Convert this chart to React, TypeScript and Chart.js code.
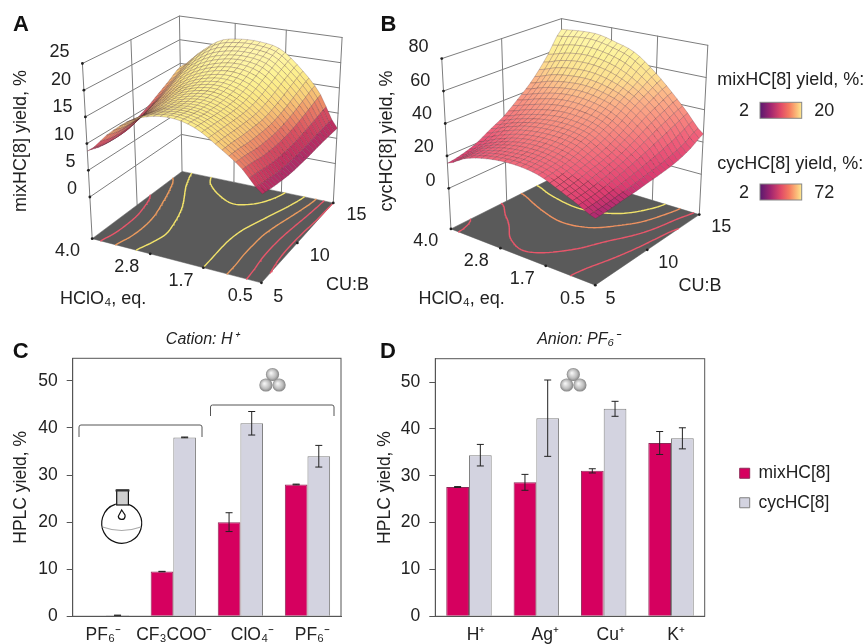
import React, { useEffect, useRef } from "react";
import { Chart, registerables } from "chart.js";

Chart.register(...registerables);
Chart.defaults.font.family = "'Liberation Sans', Arial, sans-serif";

const FONT = "'Liberation Sans', Arial, sans-serif";
const INK = "#222222";

// ---------- panel C / D bars ----------
const catsC = ["PF₆⁻", "CF₃COO⁻", "ClO₄⁻", "PF₆⁻"];
const mixC = [null, 9.5, 20, 28];
const cycC = [0.2, 38, 41, 34];
const mixErrC = [0, 0.05, 2, 0.08];
const cycErrC = [0.05, 0.08, 2.5, 2.3];

const catsD = ["H⁺", "Ag⁺", "Cu⁺", "K⁺"];
const mixD = [27.6, 28.6, 31.05, 37];
const cycD = [34.4, 42.3, 44.3, 38];
const mixErrD = [0.1, 1.7, 0.45, 2.45];
const cycErrD = [2.3, 8.15, 1.6, 2.25];

// ---------- surfaces: rows are CU:B 5 -> 15, columns HClO4 4.0 -> 0.5 ----------
const surfA = [
  [8.6, 12.6, 15.8, 17.3, 17.6, 16.5, 14.0, 11.2, 7.4],
  [8.0, 12.0, 15.3, 17.0, 17.4, 16.4, 14.0, 11.0, 7.0],
  [7.8, 11.9, 15.0, 16.8, 17.3, 16.3, 13.9, 10.6, 6.7],
  [8.0, 12.1, 15.3, 17.0, 17.5, 16.3, 13.9, 10.5, 6.5],
  [8.8, 12.8, 15.8, 17.5, 17.9, 16.6, 14.0, 10.6, 6.5],
  [9.8, 13.8, 16.6, 18.2, 18.6, 17.4, 14.6, 11.0, 6.6],
  [11.2, 15.1, 17.8, 19.3, 19.7, 18.6, 15.6, 11.7, 6.8],
  [12.7, 16.6, 19.4, 20.6, 20.8, 19.9, 16.8, 12.6, 6.9],
  [14.3, 18.0, 21.0, 21.9, 21.9, 21.0, 17.8, 13.5, 7.0],
];
const surfB = [
  [15.5, 22, 25.5, 27.2, 27.3, 25.5, 21, 16.3, 11.6],
  [17, 23, 26.8, 28.5, 28.7, 26.8, 22.3, 17, 12],
  [20, 25, 29, 31, 31, 29, 24.5, 18.5, 12.8],
  [25, 29.5, 33, 34.5, 34.5, 32.3, 26.5, 20.5, 13.5],
  [30, 34, 37, 38.7, 38.3, 35.8, 29.6, 23, 14.5],
  [37.5, 41, 44, 45, 43.8, 40.5, 34, 26, 15.5],
  [46, 50, 52, 52.5, 50.5, 46.5, 39.5, 29.5, 17],
  [58, 61.5, 63, 62, 58.5, 52.5, 44, 33, 20],
  [72.8, 74, 74, 71, 67, 58.5, 48, 36.5, 25],
];
const zTicksA = [0, 5, 10, 15, 20, 25];
const zTicksB = [0, 20, 40, 60, 80];
const uTicks = ["4.0", "2.8", "1.7", "0.5"];
const vTicks = ["5", "10", "15"];
const levelsA = [7, 10, 13, 16, 19.8];
const levelsB = [18, 28, 38, 48];

type P = [number, number];
const z3 = (a: number, b: number): P => [a / 3, b / 3];

const geomA = {
  floor: { L: z3(270, 722), F: z3(788, 858), R: z3(1008, 612), B: z3(545, 515) },
  top: { L: z3(240, 183), F: z3(795, 268), R: z3(1035, 103), B: z3(537, 37) },
  zMin: -7.8,
  zMax: 25,
};
const geomB = {
  floor: { L: z3(265, 692), F: z3(705, 865), R: z3(1022, 648), B: z3(605, 520) },
  top: { L: z3(237, 168), F: z3(707, 277), R: z3(1048, 127), B: z3(602, 45) },
  zMin: -25,
  zMax: 80,
};

const hex = (h: string) => [1, 3, 5].map((i) => parseInt(h.slice(i, i + 2), 16));
const colorRamp = (stops: [number, string][]) => (v: number) => {
  if (v <= stops[0][0]) return stops[0][1];
  for (let i = 1; i < stops.length; i++) {
    if (v <= stops[i][0]) {
      const f = (v - stops[i - 1][0]) / (stops[i][0] - stops[i - 1][0]);
      const a = hex(stops[i - 1][1]);
      const b = hex(stops[i][1]);
      return `rgb(${a.map((c, k) => Math.round(c + (b[k] - c) * f)).join(",")})`;
    }
  }
  return stops[stops.length - 1][1];
};
const rampA = colorRamp([
  [6, "#9c2a6e"], [8, "#c0305f"], [10, "#d85060"], [12, "#ee9068"],
  [14, "#f8cc78"], [16, "#fbe784"], [18, "#fdf294"], [21, "#fff6ac"],
]);
const rampB = colorRamp([
  [8, "#8a1f70"], [12, "#b02a70"], [16, "#dc3c70"], [25, "#f0607a"], [35, "#f88a80"],
  [45, "#fcb088"], [55, "#fde090"], [65, "#fdf29a"], [75, "#fff8b0"],
]);

const lerp = (a: number, b: number, f: number) => a + (b - a) * f;
const lerpP = (a: P, b: P, f: number): P => [lerp(a[0], b[0], f), lerp(a[1], b[1], f)];
const bilinear = (c: { L: P; F: P; R: P; B: P }, t: number, s: number): P =>
  lerpP(lerpP(c.L, c.F, t), lerpP(c.B, c.R, t), s);

const project = (g: typeof geomA, t: number, s: number, z: number) => {
  const f = bilinear(g.floor, t, s);
  const p = bilinear(g.top, t, s);
  const w = (z - g.zMin) / (g.zMax - g.zMin);
  const q = lerpP(f, p, w);
  return { x: q[0], y: q[1] };
};

const catmull = (p0: number, p1: number, p2: number, p3: number, f: number) =>
  0.5 * (2 * p1 + (p2 - p0) * f + (2 * p0 - 5 * p1 + 4 * p2 - p3) * f * f + (3 * p1 - p0 - 3 * p2 + p3) * f * f * f);
const sampleRow = (row: number[], t: number) => {
  const n = row.length - 1;
  const x = Math.min(t * n, n - 1e-6);
  const i = Math.floor(x);
  return catmull(row[Math.max(i - 1, 0)], row[i], row[i + 1], row[Math.min(i + 2, n)], x - i);
};
const sampleGrid = (grid: number[][], t: number, s: number) => sampleRow(grid.map((r) => sampleRow(r, t)), s);

function contourData(g: typeof geomA, grid: number[][], level: number) {
  const N = 64;
  const pts: { x: number; y: number }[] = [];
  const vals: number[][] = [];
  for (let j = 0; j <= N; j++) {
    const r: number[] = [];
    for (let i = 0; i <= N; i++) r.push(sampleGrid(grid, i / N, j / N));
    vals.push(r);
  }
  for (let j = 0; j < N; j++) {
    for (let i = 0; i < N; i++) {
      const c: [number, number, number][] = [
        [i, j, vals[j][i]], [i + 1, j, vals[j][i + 1]], [i + 1, j + 1, vals[j + 1][i + 1]], [i, j + 1, vals[j + 1][i]],
      ];
      const hits: P[] = [];
      for (let k = 0; k < 4; k++) {
        const a = c[k];
        const b = c[(k + 1) % 4];
        if (a[2] < level !== b[2] < level) {
          const f = (level - a[2]) / (b[2] - a[2]);
          hits.push([lerp(a[0], b[0], f) / N, lerp(a[1], b[1], f) / N]);
        }
      }
      if (hits.length >= 2) {
        const a = bilinear(g.floor, hits[0][0], hits[0][1]);
        const b = bilinear(g.floor, hits[1][0], hits[1][1]);
        pts.push({ x: a[0], y: a[1] }, { x: b[0], y: b[1] }, { x: NaN, y: NaN });
      }
    }
  }
  return pts;
}

const lineDs = (data: any[], color: string, width: number) => ({
  data,
  showLine: true,
  borderColor: color,
  borderWidth: width,
  pointRadius: 0,
  fill: false,
  clip: false,
  borderCapStyle: "round",
});

type TextItem = { text: string; x: number; y: number; font: string; align?: CanvasTextAlign; rot?: number; color?: string };

const textPlugin = (items: TextItem[]) => ({
  id: "panelTexts",
  afterDraw(chart: any) {
    const ctx = chart.ctx;
    items.forEach((it) => {
      ctx.save();
      ctx.translate(it.x, it.y);
      if (it.rot) ctx.rotate(it.rot);
      ctx.font = it.font;
      ctx.fillStyle = it.color || INK;
      ctx.textAlign = it.align || "left";
      ctx.textBaseline = "middle";
      ctx.fillText(it.text, 0, 0);
      ctx.restore();
    });
  },
});

function makeSurface(
  canvas: HTMLCanvasElement,
  g: typeof geomA,
  grid: number[][],
  ramp: (v: number) => string,
  zTicks: number[],
  levels: number[],
  levelColors: string[],
  title: string,
  letter: string,
  W: number,
  H: number,
  titleX: number,
  uTitleX: number,
  vTitleX: number,
  vTitleY: number,
  extra: any[],
) {
  const ds: any[] = [];
  const fl = g.floor;
  const wallColor = "#7d7d7d";
  const pOf = (t: number, s: number, z: number) => project(g, t, s, z);

  // walls
  const wall = (z: number) => [pOf(0, 0, z), pOf(0, 1, z), pOf(1, 1, z)];
  zTicks.forEach((z) => ds.push(lineDs(wall(z), wallColor, 1)));
  [0, 0.5, 1].forEach((s) => ds.push(lineDs([pOf(0, s, g.zMin), pOf(0, s, g.zMax)], wallColor, 1)));
  [0.343, 0.657, 1].forEach((t) => ds.push(lineDs([pOf(t, 1, g.zMin), pOf(t, 1, g.zMax)], wallColor, 1)));

  // floor
  const corner = (c: P) => ({ x: c[0], y: c[1] });
  ds.push({
    data: [corner(fl.L), corner(fl.F), corner(fl.R), corner(fl.B), corner(fl.L)],
    showLine: true, fill: "shape", backgroundColor: "#5a5a5a", borderColor: "#5a5a5a", borderWidth: 0.5, pointRadius: 0, clip: false,
  });
  levels.forEach((lv, i) => ds.push(lineDs(contourData(g, grid, lv), levelColors[i], 1.4)));

  // tick dots
  ds.push({
    data: [
      ...zTicks.map((z) => pOf(0, 0, z)),
      ...[0, 0.343, 0.657, 1].map((t) => pOf(t, 0, g.zMin)),
      ...[0.5, 1].map((s) => pOf(1, s, g.zMin)),
    ],
    showLine: false, pointRadius: 1.4, pointBackgroundColor: "#222", pointBorderWidth: 0, clip: false,
  });

  // surface: far corner to near corner
  const M = 26;
  const zv: number[][] = [];
  for (let j = 0; j <= M; j++) {
    const r: number[] = [];
    for (let i = 0; i <= M; i++) r.push(sampleGrid(grid, i / M, j / M));
    zv.push(r);
  }
  for (let j = M - 1; j >= 0; j--) {
    for (let i = 0; i < M; i++) {
      const a = pOf(i / M, j / M, zv[j][i]);
      const b = pOf((i + 1) / M, j / M, zv[j][i + 1]);
      const c = pOf((i + 1) / M, (j + 1) / M, zv[j + 1][i + 1]);
      const d = pOf(i / M, (j + 1) / M, zv[j + 1][i]);
      const mean = (zv[j][i] + zv[j][i + 1] + zv[j + 1][i + 1] + zv[j + 1][i]) / 4;
      ds.push({
        data: [a, b, c, d, a],
        showLine: true, fill: "shape", backgroundColor: ramp(mean), borderColor: "rgba(70,35,50,0.45)", borderWidth: 0.5,
        pointRadius: 0, clip: false,
      });
    }
  }
  ds.reverse();

  const big = `18px ${FONT}`;
  const items: TextItem[] = [
    { text: letter, x: letter === "A" ? 13 : 20.5, y: 25, font: `bold 22px ${FONT}`, color: "#111" },
    { text: title, x: titleX, y: 141, font: big, align: "center", rot: -Math.PI / 2 },
    { text: "HClO₄, eq.", x: uTitleX, y: 299, font: big },
    { text: "CU:B", x: vTitleX, y: vTitleY, font: big },
  ];
  zTicks.forEach((z) => {
    const p = pOf(0, 0, z);
    items.push({ text: String(z), x: p.x - 10.5, y: p.y - 8.5, font: big, align: "right" });
  });
  uTicks.forEach((u, i) => {
    const p = pOf([0, 0.343, 0.657, 1][i], 0, g.zMin);
    items.push({ text: u, x: p.x - 22.5, y: p.y + 10.5, font: big, align: "center" });
  });
  vTicks.forEach((v, i) => {
    const p = pOf(1, [0, 0.5, 1][i], g.zMin);
    items.push({ text: v, x: p.x + 10.5, y: p.y + 11, font: big });
  });

  return new Chart(canvas, {
    type: "scatter",
    data: { datasets: ds },
    options: {
      animation: false,
      responsive: false,
      devicePixelRatio: 1,
      events: [],
      layout: { padding: 0 },
      plugins: { legend: { display: false }, tooltip: { enabled: false } },
      scales: {
        x: { type: "linear", min: 0, max: W, display: false },
        y: { type: "linear", min: 0, max: H, reverse: true, display: false },
      },
    },
    plugins: [textPlugin(items), ...extra],
  } as any);
}

const errorPlugin = (errs: number[][]) => ({
  id: "errorBars",
  afterDatasetsDraw(chart: any) {
    const ctx = chart.ctx;
    const y = chart.scales.y;
    ctx.save();
    ctx.strokeStyle = "#222";
    ctx.lineWidth = 1;
    errs.forEach((arr, di) => {
      const meta = chart.getDatasetMeta(di);
      arr.forEach((e, i) => {
        const v = chart.data.datasets[di].data[i];
        if (v == null) return;
        const x = meta.data[i].x;
        const y1 = y.getPixelForValue(v + e);
        const y2 = y.getPixelForValue(v - e);
        ctx.beginPath();
        ctx.moveTo(x, y1); ctx.lineTo(x, y2);
        ctx.moveTo(x - 3.5, y1); ctx.lineTo(x + 3.5, y1);
        ctx.moveTo(x - 3.5, y2); ctx.lineTo(x + 3.5, y2);
        ctx.stroke();
      });
    });
    ctx.restore();
  },
});

const boxPlugin = {
  id: "plotBox",
  afterDraw(chart: any) {
    const a = chart.chartArea;
    const ctx = chart.ctx;
    ctx.save();
    ctx.strokeStyle = "#555";
    ctx.lineWidth = 1;
    ctx.strokeRect(a.left, a.top, a.right - a.left, a.bottom - a.top);
    ctx.restore();
  },
};

const balls = (ctx: CanvasRenderingContext2D, cx: number, cy: number) => {
  [[0, -5.5], [-6.6, 5], [6.6, 5]].forEach(([dx, dy]) => {
    const x = cx + dx;
    const y = cy + dy;
    const gr = ctx.createRadialGradient(x - 1.5, y - 1.5, 0.5, x, y, 7);
    gr.addColorStop(0, "#f4f4f4");
    gr.addColorStop(0.6, "#bdbdbd");
    gr.addColorStop(1, "#7a7a7a");
    ctx.fillStyle = gr;
    ctx.beginPath();
    ctx.arc(x, y, 6.6, 0, Math.PI * 2);
    ctx.fill();
  });
};

const iconsC = {
  id: "iconsC",
  afterDraw(chart: any) {
    const ctx: CanvasRenderingContext2D = chart.ctx;
    ctx.save();
    balls(ctx, 272.5, 50);
    // brackets
    ctx.strokeStyle = "#555";
    ctx.lineWidth = 1;
    const br = (x1: number, x2: number, yT: number, yB: number) => {
      ctx.beginPath();
      ctx.moveTo(x1, yB);
      ctx.lineTo(x1, yT + 2);
      ctx.quadraticCurveTo(x1, yT, x1 + 2, yT);
      ctx.lineTo(x2 - 2, yT);
      ctx.quadraticCurveTo(x2, yT, x2, yT + 2);
      ctx.lineTo(x2, yB);
      ctx.stroke();
    };
    br(79, 202, 95, 107);
    br(210.5, 334, 75, 86);
    // flask
    ctx.strokeStyle = "#111";
    ctx.lineWidth = 1.2;
    ctx.beginPath();
    ctx.arc(121.7, 193.3, 20, -Math.PI / 2 + 0.3, -Math.PI / 2 - 0.3 + Math.PI * 2);
    ctx.stroke();
    ctx.fillStyle = "#cfcfcf";
    ctx.fillRect(116.7, 160, 11.7, 15);
    ctx.strokeRect(116.7, 160, 11.7, 15);
    ctx.fillStyle = "#333";
    ctx.fillRect(115.5, 159.5, 14, 2);
    ctx.strokeStyle = "#aaa";
    ctx.beginPath();
    ctx.moveTo(102.5, 197);
    ctx.quadraticCurveTo(121.7, 204, 140.9, 197);
    ctx.stroke();
    ctx.strokeStyle = "#111";
    ctx.fillStyle = "#fff";
    ctx.beginPath();
    ctx.moveTo(121.7, 180);
    ctx.lineTo(125, 185);
    ctx.arc(121.7, 186, 3.4, 0.1, Math.PI - 0.1);
    ctx.closePath();
    ctx.stroke();
    ctx.restore();
  },
};
const iconsD = {
  id: "iconsD",
  afterDraw(chart: any) {
    const ctx: CanvasRenderingContext2D = chart.ctx;
    ctx.save();
    balls(ctx, 208.3, 50);
    ctx.restore();
  },
};

const shiftLabels = (off: number[]) => ({
  id: "shiftLabels",
  beforeDraw(chart: any) {
    const items = chart.scales.x.getLabelItems();
    if (items._done) return;
    items.forEach((it: any, i: number) => {
      it.options.translation[0] += off[i];
    });
    items._done = true;
  },
});

const legendPlace = (left: number, top: number) => ({
  id: "legendPlace",
  beforeDraw(chart: any) {
    const l = chart.legend;
    l.left = left;
    l.right = left + 135;
    l.top = top;
    l.bottom = top + 80;
  },
});

function makeBars(
  canvas: HTMLCanvasElement,
  cats: string[],
  mix: (number | null)[],
  cyc: number[],
  errs: number[][],
  yMax: number,
  axisW: number,
  padTop: number,
  padRight: number,
  titlePad: number,
  hasLegend: boolean,
  extra: any[],
) {
  return new Chart(canvas, {
    type: "bar",
    data: {
      labels: cats,
      datasets: [
        { label: "mixHC[8]", data: mix, backgroundColor: "#d6005f", borderColor: "#8f2a58", borderWidth: 1 },
        { label: "cycHC[8]", data: cyc, backgroundColor: "#d3d3e0", borderColor: "#808080", borderWidth: 1 },
      ],
    },
    options: {
      animation: false,
      responsive: false,
      devicePixelRatio: 1,
      events: [],
      layout: { padding: { top: padTop, right: padRight, left: 0, bottom: 0 } },
      datasets: { bar: { categoryPercentage: 0.675, barPercentage: 1 } },
      plugins: {
        tooltip: { enabled: false },
        legend: hasLegend
          ? {
              position: "chartArea",
              align: "start",
              labels: { boxWidth: 10, boxHeight: 10, padding: 12, color: INK, font: { size: 17.5 } },
            }
          : { display: false },
      },
      scales: {
        x: {
          grid: { display: false },
          border: { color: "#555" },
          ticks: { color: INK, font: { size: 17.5 }, padding: 0, maxRotation: 0, autoSkip: false },
          afterFit: (s: any) => { s.height = 27.7; },
        },
        y: {
          min: 0,
          max: yMax,
          afterBuildTicks: (s: any) => { s.ticks = s.ticks.filter((t: any) => t.value % 10 === 0); },
          grid: { drawOnChartArea: false, drawTicks: true, tickLength: 6, color: "#555" },
          border: { color: "#555" },
          ticks: { stepSize: 10, color: INK, font: { size: 17.5 }, padding: 9 },
          title: { display: true, text: "HPLC yield, %", color: INK, font: { size: 17.5 }, padding: { top: titlePad, bottom: 0 } },
          afterFit: (s: any) => { s.width = axisW; },
        },
      },
    },
    plugins: [errorPlugin(errs), boxPlugin, ...extra],
  } as any);
}

const colorbars = {
  id: "colorbars",
  afterDraw(chart: any) {
    const ctx: CanvasRenderingContext2D = chart.ctx;
    const ox = 360;
    const draw = (y1: number, y2: number) => {
      const g = ctx.createLinearGradient(760 - ox, 0, 801.7 - ox, 0);
      g.addColorStop(0, "#5a1a6e");
      g.addColorStop(0.25, "#a02570");
      g.addColorStop(0.5, "#e04a68");
      g.addColorStop(0.7, "#f57a60");
      g.addColorStop(0.87, "#fbb878");
      g.addColorStop(1, "#fde98f");
      ctx.fillStyle = g;
      ctx.fillRect(760 - ox, y1, 41.7, y2 - y1);
      ctx.strokeStyle = "#888";
      ctx.lineWidth = 1;
      ctx.strokeRect(760 - ox, y1, 41.7, y2 - y1);
    };
    ctx.save();
    draw(102.3, 118.3);
    draw(184, 200);
    ctx.restore();
  },
};

const big18 = `18px ${FONT}`;
const legendTexts: TextItem[] = [
  { text: "mixHC[8] yield, %:", x: 357.3, y: 80, font: big18 },
  { text: "2", x: 384, y: 110.7, font: big18, align: "center" },
  { text: "20", x: 454.3, y: 110.7, font: big18 },
  { text: "cycHC[8] yield, %:", x: 357.3, y: 164, font: big18 },
  { text: "2", x: 384, y: 193, font: big18, align: "center" },
  { text: "72", x: 454.3, y: 193, font: big18 },
];

export default function App() {
  const a = useRef<HTMLCanvasElement>(null);
  const b = useRef<HTMLCanvasElement>(null);
  const c = useRef<HTMLCanvasElement>(null);
  const d = useRef<HTMLCanvasElement>(null);

  useEffect(() => {
    const redC = "#e8566a";
    const charts = [
      makeSurface(a.current!, geomA, surfA, rampA, zTicksA, levelsA, [redC, redC, "#eb9a5e", "#f2e36a", "#f2e36a"],
        "mixHC[8] yield, %", "A", 400, 320, 21, 60, 326, 285, []),
      makeSurface(b.current!, geomB, surfB, rampB, zTicksB, levelsB, [redC, redC, "#ee9160", "#f2e36a"],
        "cycHC[8] yield, %", "B", 505, 320, 27, 58.5, 318.5, 286, [textPlugin(legendTexts), colorbars]),
      makeBars(c.current!, catsC, mixC, cycC, [mixErrC, cycErrC], 54.8, 72.7, 28.3, 19, 11, false, [
        shiftLabels([-3, 1, 12, 5]),
        iconsC,
        textPlugin([
          { text: "C", x: 12.7, y: 22, font: `bold 22px ${FONT}`, color: "#111" },
          { text: "Cation: H⁺", x: 201.7, y: 9.5, font: `italic 16px ${FONT}`, align: "center" },
        ]),
      ]),
      makeBars(d.current!, catsD, mixD, cycD, [mixErrD, cycErrD], 55, 70.3, 28.7, 160.3, 9.5, true, [
        shiftLabels([7, 9, 7, 5]),
        iconsD,
        legendPlace(362.7, 122.5),
        textPlugin([
          { text: "D", x: 15, y: 22, font: `bold 22px ${FONT}`, color: "#111" },
          { text: "Anion: PF₆⁻", x: 213, y: 9.5, font: `italic 16px ${FONT}`, align: "center" },
        ]),
      ]),
    ];
    return () => charts.forEach((ch) => ch.destroy());
  }, []);

  const abs = (left: number, top: number): React.CSSProperties => ({ position: "absolute", left, top, display: "block" });
  return (
    <div style={{ position: "absolute", left: 0, top: 0, width: 865, height: 644, overflow: "hidden", background: "#fff" }}>
      <canvas ref={a} width={400} height={320} style={abs(0, 0)} />
      <canvas ref={b} width={505} height={320} style={abs(360, 0)} />
      <canvas ref={c} width={360} height={314} style={abs(0, 330)} />
      <canvas ref={d} width={500} height={314} style={abs(365, 330)} />
    </div>
  );
}
